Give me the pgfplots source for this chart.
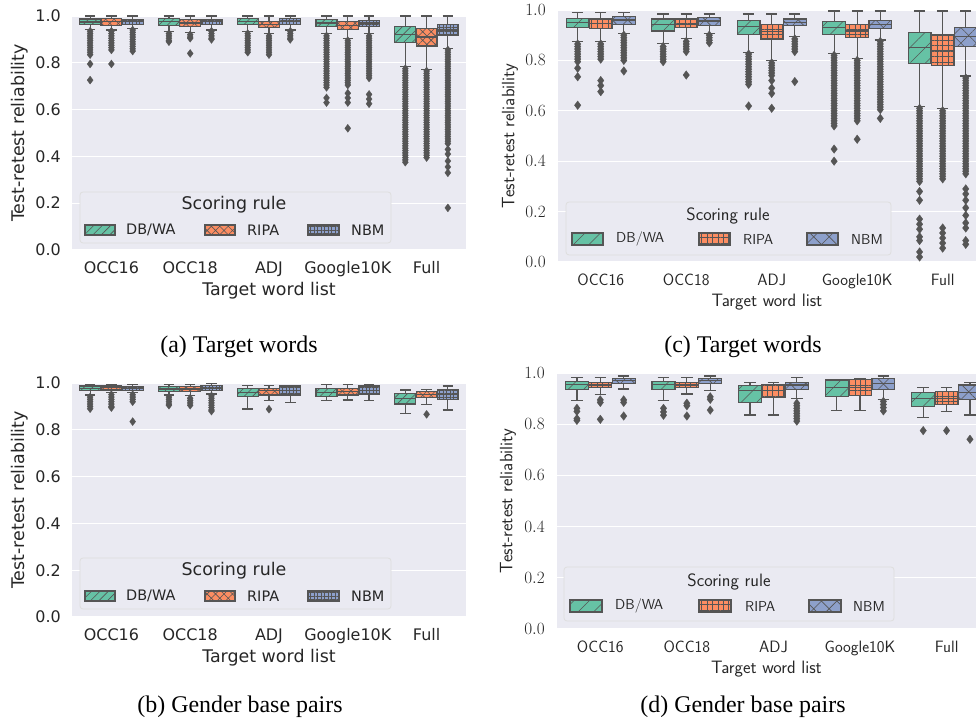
\documentclass[border=0pt]{standalone}
\usepackage{fontspec}
\setmainfont{Liberation Serif}
\newfontfamily\dejavu{DejaVu Sans}
\usepackage{pgfplots}
\pgfplotsset{compat=1.18}
\usepgfplotslibrary{statistics}
\usetikzlibrary{patterns.meta}
\definecolor{bgc}{HTML}{EAEAF2}
\definecolor{cA}{HTML}{66C2A5}
\definecolor{cB}{HTML}{FC8D62}
\definecolor{cC}{HTML}{8DA0CB}
\definecolor{edgec}{HTML}{555555}
\definecolor{txt}{HTML}{262626}
\tikzset{
  hA1/.style={fill=cA, postaction={pattern={Lines[angle=45,distance=6pt,line width=0.6pt]}, pattern color=edgec}},
  hB1/.style={fill=cB, postaction={pattern={Hatch[angle=45,distance=6pt,line width=0.6pt]}, pattern color=edgec}},
  hC1/.style={fill=cC, postaction={pattern={Hatch[angle=0,distance=3.5pt,line width=0.5pt]}, pattern color=edgec}},
  hA2/.style={fill=cA, postaction={pattern={Lines[angle=45,distance=11pt,line width=0.6pt]}, pattern color=edgec}},
  hB2/.style={fill=cB, postaction={pattern={Hatch[angle=0,distance=5.5pt,line width=0.6pt]}, pattern color=edgec}},
  hC2/.style={fill=cC, postaction={pattern={Hatch[angle=45,distance=11pt,line width=0.6pt]}, pattern color=edgec}},
}
\pgfplotsset{
  bxc/.style={boxplot/draw direction=y, boxplot/box extend=0.265, boxplot/whisker extend=0.133,
    draw=edgec, line width=1.2pt, solid,
    mark=diamond*, mark size=4pt,
    mark options={draw=edgec, fill=edgec, line width=0.3pt},
    boxplot/every median/.style={draw=edgec, line width=1.2pt},
    boxplot/every whisker/.style={draw=edgec, line width=1.2pt}},
  pA1/.style={bxc, boxplot/every box/.style={draw=edgec, line width=1.2pt, hA1}},
  pB1/.style={bxc, boxplot/every box/.style={draw=edgec, line width=1.2pt, hB1}},
  pC1/.style={bxc, boxplot/every box/.style={draw=edgec, line width=1.2pt, hC1}},
  pA2/.style={bxc, mark size=4.3pt, boxplot/every box/.style={draw=edgec, line width=1.2pt, hA2}},
  pB2/.style={bxc, mark size=4.3pt, boxplot/every box/.style={draw=edgec, line width=1.2pt, hB2}},
  pC2/.style={bxc, mark size=4.3pt, boxplot/every box/.style={draw=edgec, line width=1.2pt, hC2}},
  axbase/.style={scale only axis,
    axis background/.style={fill=bgc},
    axis line style={draw=none}, tick style={draw=none},
    ymin=0, ymax=1, xmin=-0.5,
    ytick={0,0.2,0.4,0.6,0.8,1}, ymajorgrids, xmajorgrids=false,
    major grid style={white, line width=1.3pt},
    xtick={0,1,2,3,4}, xticklabels={OCC16,OCC18,ADJ,Google10K,Full},
    /pgf/number format/fixed, /pgf/number format/fixed zerofill, /pgf/number format/precision=1,
    xlabel={Target word list}, ylabel={Test-retest reliability}},
  axL/.style={axbase, width=394bp, height=234bp, xmax=4.5,
    /pgf/number format/assume math mode=true,
    ticklabel style={font=\dejavu\fontsize{16}{19}\selectfont, text=txt, inner sep=0pt},
    xticklabel style={anchor=base, yshift=-23.8bp},
    yticklabel style={anchor=east, xshift=-11bp},
    xlabel style={font=\dejavu\fontsize{17.5}{20}\selectfont, text=txt, at={(axis description cs:0.5,0)}, anchor=base, inner sep=0pt, yshift=-45.4bp},
    ylabel style={font=\dejavu\fontsize{17.5}{20}\selectfont, text=txt, at={(axis description cs:-0.132,0.5)}, anchor=center, inner sep=0pt}},
  axR/.style={axbase,
    ticklabel style={font=\fontsize{16.5}{19}\selectfont, text=txt, inner sep=0pt},
    xticklabel style={font=\sffamily\fontsize{16.5}{19}\selectfont, anchor=base, yshift=-23.7bp},
    yticklabel style={anchor=east, xshift=-12bp},
    xlabel style={font=\sffamily\fontsize{18}{21}\selectfont, text=txt, at={(axis description cs:0.5,0)}, anchor=base, inner sep=0pt, yshift=-44.2bp},
    ylabel style={font=\sffamily\fontsize{18}{21}\selectfont, text=txt, anchor=center, inner sep=0pt}},
}
\newcommand{\bp}[7]{\addplot[#1, boxplot prepared={draw position=#2, lower whisker=#3, lower quartile=#4, median=#5, upper quartile=#6, upper whisker=#7}]}
\begin{document}
\begin{tikzpicture}
\useasboundingbox (0,0) rectangle (976bp,725bp);
% ================= (a)
\begin{axis}[axL, at={(72bp,475bp)}]
\bp{pA1}{-0.27}{0.943}{0.962}{0.974}{0.987}{1} coordinates {(0,0.935)(0,0.925)(0,0.915)(0,0.905)(0,0.895)(0,0.885)(0,0.875)(0,0.865)(0,0.855)(0,0.845)(0,0.835)(0,0.795)(0,0.726)};
\bp{pB1}{0}{0.94}{0.96}{0.978}{0.99}{1} coordinates {(0,0.935)(0,0.925)(0,0.915)(0,0.905)(0,0.895)(0,0.885)(0,0.875)(0,0.865)(0,0.855)(0,0.795)};
\bp{pC1}{0.27}{0.945}{0.965}{0.975}{0.985}{1} coordinates {(0,0.94)(0,0.93)(0,0.92)(0,0.91)(0,0.90)(0,0.89)(0,0.88)(0,0.87)(0,0.86)(0,0.85)};
\bp{pA1}{0.73}{0.935}{0.96}{0.975}{0.99}{1} coordinates {(0,0.925)(0,0.915)(0,0.905)(0,0.895)(0,0.89)};
\bp{pB1}{1}{0.93}{0.955}{0.97}{0.985}{1} coordinates {(0,0.92)(0,0.91)(0,0.905)(0,0.84)};
\bp{pC1}{1.27}{0.94}{0.965}{0.975}{0.985}{1} coordinates {(0,0.935)(0,0.925)(0,0.915)(0,0.905)(0,0.90)};
\bp{pA1}{1.73}{0.935}{0.965}{0.975}{0.99}{1} coordinates {(0,0.925)(0,0.915)(0,0.905)(0,0.895)(0,0.885)(0,0.875)(0,0.865)(0,0.855)(0,0.845)};
\bp{pB1}{2}{0.925}{0.95}{0.965}{0.975}{1} coordinates {(0,0.915)(0,0.905)(0,0.895)(0,0.885)(0,0.875)(0,0.865)(0,0.855)(0,0.845)(0,0.835)};
\bp{pC1}{2.27}{0.94}{0.965}{0.975}{0.99}{1} coordinates {(0,0.935)(0,0.925)(0,0.915)(0,0.905)(0,0.90)};
\bp{pA1}{2.73}{0.925}{0.955}{0.97}{0.985}{1} coordinates {(0,0.915)(0,0.905)(0,0.895)(0,0.885)(0,0.875)(0,0.865)(0,0.855)(0,0.845)(0,0.835)(0,0.825)(0,0.815)(0,0.805)(0,0.795)(0,0.785)(0,0.775)(0,0.765)(0,0.755)(0,0.745)(0,0.735)(0,0.725)(0,0.715)(0,0.705)(0,0.695)(0,0.65)(0,0.63)};
\bp{pB1}{3}{0.905}{0.943}{0.96}{0.975}{1} coordinates {(0,0.895)(0,0.885)(0,0.875)(0,0.865)(0,0.855)(0,0.845)(0,0.835)(0,0.825)(0,0.815)(0,0.805)(0,0.795)(0,0.785)(0,0.775)(0,0.765)(0,0.755)(0,0.745)(0,0.735)(0,0.725)(0,0.715)(0,0.705)(0,0.67)(0,0.65)(0,0.63)(0,0.52)};
\bp{pC1}{3.27}{0.925}{0.955}{0.97}{0.98}{1} coordinates {(0,0.915)(0,0.905)(0,0.895)(0,0.885)(0,0.875)(0,0.865)(0,0.855)(0,0.845)(0,0.835)(0,0.825)(0,0.815)(0,0.805)(0,0.795)(0,0.785)(0,0.775)(0,0.765)(0,0.755)(0,0.745)(0,0.735)(0,0.665)(0,0.645)(0,0.625)};
\bp{pA1}{3.73}{0.783}{0.888}{0.922}{0.954}{1} coordinates {(0,0.775)(0,0.765)(0,0.755)(0,0.745)(0,0.735)(0,0.725)(0,0.715)(0,0.705)(0,0.695)(0,0.685)(0,0.675)(0,0.665)(0,0.655)(0,0.645)(0,0.635)(0,0.625)(0,0.615)(0,0.605)(0,0.595)(0,0.585)(0,0.575)(0,0.565)(0,0.555)(0,0.545)(0,0.535)(0,0.525)(0,0.515)(0,0.505)(0,0.495)(0,0.485)(0,0.475)(0,0.465)(0,0.455)(0,0.445)(0,0.435)(0,0.425)(0,0.415)(0,0.405)(0,0.395)(0,0.385)(0,0.375)};
\bp{pB1}{4}{0.77}{0.872}{0.91}{0.947}{1} coordinates {(0,0.765)(0,0.755)(0,0.745)(0,0.735)(0,0.725)(0,0.715)(0,0.705)(0,0.695)(0,0.685)(0,0.675)(0,0.665)(0,0.655)(0,0.645)(0,0.635)(0,0.625)(0,0.615)(0,0.605)(0,0.595)(0,0.585)(0,0.575)(0,0.565)(0,0.555)(0,0.545)(0,0.535)(0,0.525)(0,0.515)(0,0.505)(0,0.495)(0,0.485)(0,0.475)(0,0.465)(0,0.455)(0,0.445)(0,0.435)(0,0.425)(0,0.415)(0,0.405)(0,0.395)};
\bp{pC1}{4.27}{0.862}{0.919}{0.94}{0.964}{1} coordinates {(0,0.855)(0,0.845)(0,0.835)(0,0.825)(0,0.815)(0,0.805)(0,0.795)(0,0.785)(0,0.775)(0,0.765)(0,0.755)(0,0.745)(0,0.735)(0,0.725)(0,0.715)(0,0.705)(0,0.695)(0,0.685)(0,0.675)(0,0.665)(0,0.655)(0,0.645)(0,0.635)(0,0.625)(0,0.615)(0,0.605)(0,0.595)(0,0.585)(0,0.575)(0,0.565)(0,0.555)(0,0.545)(0,0.535)(0,0.525)(0,0.515)(0,0.505)(0,0.495)(0,0.485)(0,0.475)(0,0.465)(0,0.455)(0,0.43)(0,0.41)(0,0.38)(0,0.355)(0,0.33)(0,0.18)};
\end{axis}
% ================= (b)
\begin{axis}[axL, at={(72bp,108bp)}]
\bp{pA1}{-0.27}{0.949}{0.967}{0.977}{0.987}{0.995} coordinates {(0,0.94)(0,0.93)(0,0.92)(0,0.91)(0,0.90)(0,0.89)};
\bp{pB1}{0}{0.959}{0.970}{0.98}{0.987}{0.995} coordinates {(0,0.95)(0,0.94)(0,0.93)(0,0.92)(0,0.91)(0,0.90)(0,0.895)};
\bp{pC1}{0.27}{0.959}{0.967}{0.978}{0.985}{0.995} coordinates {(0,0.95)(0,0.94)(0,0.93)(0,0.92)(0,0.835)};
\bp{pA1}{0.73}{0.949}{0.963}{0.974}{0.984}{0.995} coordinates {(0,0.94)(0,0.93)(0,0.92)(0,0.91)(0,0.905)};
\bp{pB1}{1}{0.945}{0.963}{0.974}{0.984}{0.995} coordinates {(0,0.935)(0,0.925)(0,0.915)(0,0.905)};
\bp{pC1}{1.27}{0.953}{0.967}{0.978}{0.99}{0.998} coordinates {(0,0.945)(0,0.935)(0,0.925)(0,0.915)(0,0.905)(0,0.895)(0,0.885)(0,0.88)};
\bp{pA1}{1.73}{0.889}{0.941}{0.959}{0.977}{0.99} coordinates {};
\bp{pB1}{2}{0.924}{0.949}{0.967}{0.977}{0.99} coordinates {(0,0.888)};
\bp{pC1}{2.27}{0.917}{0.949}{0.967}{0.987}{0.99} coordinates {};
\bp{pA1}{2.73}{0.924}{0.941}{0.959}{0.977}{0.992} coordinates {};
\bp{pB1}{3}{0.927}{0.949}{0.963}{0.977}{0.992} coordinates {};
\bp{pC1}{3.27}{0.924}{0.953}{0.967}{0.987}{0.992} coordinates {};
\bp{pA1}{3.73}{0.87}{0.91}{0.933}{0.956}{0.97} coordinates {};
\bp{pB1}{4}{0.909}{0.939}{0.952}{0.963}{0.973} coordinates {(0,0.866)};
\bp{pC1}{4.27}{0.885}{0.93}{0.952}{0.973}{0.987} coordinates {};
\end{axis}
% ================= (c)
\begin{axis}[axR, at={(558bp,463bp)}, width=418bp, height=252bp, xmax=4.39,
  ylabel style={at={(axis description cs:-0.115,0.5)}}]
\bp{pA2}{-0.27}{0.874}{0.93}{0.95}{0.967}{0.99} coordinates {(0,0.865)(0,0.855)(0,0.845)(0,0.835)(0,0.825)(0,0.815)(0,0.805)(0,0.795)(0,0.769)(0,0.735)(0,0.622)};
\bp{pB2}{0}{0.874}{0.927}{0.946}{0.964}{0.99} coordinates {(0,0.865)(0,0.855)(0,0.845)(0,0.835)(0,0.825)(0,0.815)(0,0.805)(0,0.72)(0,0.70)(0,0.676)};
\bp{pC2}{0.27}{0.907}{0.944}{0.96}{0.974}{0.99} coordinates {(0,0.90)(0,0.89)(0,0.88)(0,0.87)(0,0.86)(0,0.85)(0,0.84)(0,0.83)(0,0.82)(0,0.81)(0,0.80)(0,0.758)};
\bp{pA2}{0.73}{0.868}{0.917}{0.944}{0.964}{0.984} coordinates {(0,0.855)(0,0.845)(0,0.835)(0,0.825)(0,0.815)(0,0.805)(0,0.795)};
\bp{pB2}{1}{0.888}{0.93}{0.944}{0.964}{0.984} coordinates {(0,0.875)(0,0.865)(0,0.855)(0,0.845)(0,0.835)(0,0.742)};
\bp{pC2}{1.27}{0.907}{0.94}{0.956}{0.971}{0.984} coordinates {(0,0.90)(0,0.89)(0,0.88)(0,0.87)};
\bp{pA2}{1.73}{0.832}{0.904}{0.934}{0.958}{0.984} coordinates {(0,0.825)(0,0.815)(0,0.805)(0,0.795)(0,0.785)(0,0.775)(0,0.765)(0,0.755)(0,0.745)(0,0.735)(0,0.725)(0,0.715)(0,0.705)(0,0.619)};
\bp{pB2}{2}{0.798}{0.885}{0.914}{0.944}{0.984} coordinates {(0,0.79)(0,0.78)(0,0.77)(0,0.76)(0,0.75)(0,0.74)(0,0.72)(0,0.69)(0,0.669)(0,0.61)};
\bp{pC2}{2.27}{0.894}{0.937}{0.95}{0.964}{0.984} coordinates {(0,0.885)(0,0.875)(0,0.865)(0,0.855)(0,0.845)(0,0.835)(0,0.716)};
\bp{pA2}{2.73}{0.828}{0.904}{0.931}{0.954}{0.996} coordinates {(0,0.82)(0,0.81)(0,0.80)(0,0.79)(0,0.78)(0,0.77)(0,0.76)(0,0.75)(0,0.74)(0,0.73)(0,0.72)(0,0.71)(0,0.70)(0,0.69)(0,0.68)(0,0.67)(0,0.66)(0,0.65)(0,0.64)(0,0.63)(0,0.62)(0,0.61)(0,0.60)(0,0.59)(0,0.58)(0,0.57)(0,0.56)(0,0.55)(0,0.54)(0,0.448)(0,0.40)};
\bp{pB2}{3}{0.808}{0.89}{0.917}{0.944}{0.996} coordinates {(0,0.80)(0,0.79)(0,0.78)(0,0.77)(0,0.76)(0,0.75)(0,0.74)(0,0.73)(0,0.72)(0,0.71)(0,0.70)(0,0.69)(0,0.68)(0,0.67)(0,0.66)(0,0.65)(0,0.64)(0,0.63)(0,0.62)(0,0.61)(0,0.60)(0,0.59)(0,0.58)(0,0.57)(0,0.56)(0,0.487)};
\bp{pC2}{3.27}{0.881}{0.927}{0.943}{0.958}{0.996} coordinates {(0,0.875)(0,0.865)(0,0.855)(0,0.845)(0,0.835)(0,0.825)(0,0.815)(0,0.805)(0,0.795)(0,0.785)(0,0.775)(0,0.765)(0,0.755)(0,0.745)(0,0.735)(0,0.725)(0,0.715)(0,0.705)(0,0.695)(0,0.685)(0,0.675)(0,0.665)(0,0.655)(0,0.645)(0,0.635)(0,0.625)(0,0.615)(0,0.605)(0,0.57)};
\bp{pA2}{3.73}{0.616}{0.788}{0.85}{0.911}{0.996} coordinates {(0,0.61)(0,0.60)(0,0.59)(0,0.58)(0,0.57)(0,0.56)(0,0.55)(0,0.54)(0,0.53)(0,0.52)(0,0.51)(0,0.50)(0,0.49)(0,0.48)(0,0.47)(0,0.46)(0,0.45)(0,0.44)(0,0.43)(0,0.42)(0,0.41)(0,0.40)(0,0.39)(0,0.38)(0,0.37)(0,0.36)(0,0.35)(0,0.34)(0,0.33)(0,0.32)(0,0.28)(0,0.245)(0,0.17)(0,0.15)(0,0.13)(0,0.10)(0,0.085)(0,0.04)(0,0.02)};
\bp{pB2}{4}{0.61}{0.779}{0.84}{0.901}{0.996} coordinates {(0,0.60)(0,0.59)(0,0.58)(0,0.57)(0,0.56)(0,0.55)(0,0.54)(0,0.53)(0,0.52)(0,0.51)(0,0.50)(0,0.49)(0,0.48)(0,0.47)(0,0.46)(0,0.45)(0,0.44)(0,0.43)(0,0.42)(0,0.41)(0,0.40)(0,0.39)(0,0.38)(0,0.37)(0,0.36)(0,0.35)(0,0.34)(0,0.33)(0,0.135)(0,0.115)(0,0.095)(0,0.075)(0,0.055)};
\bp{pC2}{4.27}{0.738}{0.854}{0.894}{0.931}{0.996} coordinates {(0,0.73)(0,0.72)(0,0.71)(0,0.70)(0,0.69)(0,0.68)(0,0.67)(0,0.66)(0,0.65)(0,0.64)(0,0.63)(0,0.62)(0,0.61)(0,0.60)(0,0.59)(0,0.58)(0,0.57)(0,0.56)(0,0.55)(0,0.54)(0,0.53)(0,0.52)(0,0.51)(0,0.50)(0,0.49)(0,0.48)(0,0.47)(0,0.46)(0,0.45)(0,0.44)(0,0.43)(0,0.42)(0,0.41)(0,0.40)(0,0.39)(0,0.38)(0,0.37)(0,0.36)(0,0.35)(0,0.29)(0,0.27)(0,0.245)(0,0.215)(0,0.185)(0,0.155)(0,0.135)(0,0.085)(0,0.07)};
\end{axis}
% ================= (d)
\begin{axis}[axR, at={(557bp,96bp)}, width=419bp, height=256bp, xmax=4.34,
  ylabel style={at={(axis description cs:-0.117,0.5)}}]
\bp{pA2}{-0.27}{0.892}{0.934}{0.956}{0.966}{0.983} coordinates {(0,0.862)(0,0.85)(0,0.822)(0,0.815)};
\bp{pB2}{0}{0.917}{0.944}{0.953}{0.962}{0.983} coordinates {(0,0.895)(0,0.885)(0,0.819)};
\bp{pC2}{0.27}{0.9375}{0.96}{0.97}{0.979}{0.988} coordinates {(0,0.895)(0,0.885)(0,0.832)};
\bp{pA2}{0.73}{0.892}{0.934}{0.956}{0.966}{0.983} coordinates {(0,0.862)(0,0.848)(0,0.835)};
\bp{pB2}{1}{0.918}{0.944}{0.953}{0.962}{0.983} coordinates {(0,0.882)(0,0.872)(0,0.832)};
\bp{pC2}{1.27}{0.931}{0.96}{0.97}{0.979}{0.988} coordinates {(0,0.907)(0,0.897)(0,0.855)};
\bp{pA2}{1.73}{0.836}{0.885}{0.931}{0.95}{0.963} coordinates {};
\bp{pB2}{2}{0.836}{0.905}{0.931}{0.955}{0.963} coordinates {};
\bp{pC2}{2.27}{0.901}{0.936}{0.953}{0.963}{0.983} coordinates {(0,0.882)(0,0.872)(0,0.862)(0,0.852)(0,0.842)(0,0.832)(0,0.822)(0,0.812)};
\bp{pA2}{2.73}{0.852}{0.907}{0.944}{0.973}{0.975} coordinates {};
\bp{pB2}{3}{0.852}{0.911}{0.944}{0.975}{0.977} coordinates {};
\bp{pC2}{3.27}{0.898}{0.934}{0.96}{0.979}{0.988} coordinates {(0,0.889)(0,0.877)(0,0.865)(0,0.852)};
\bp{pA2}{3.73}{0.826}{0.868}{0.901}{0.925}{0.943} coordinates {(0,0.775)};
\bp{pB2}{4}{0.849}{0.878}{0.901}{0.927}{0.943} coordinates {(0,0.775)};
\bp{pC2}{4.27}{0.836}{0.895}{0.923}{0.953}{0.963} coordinates {(0,0.741)};
\end{axis}
% ================= legends
\begin{scope}[every node/.style={text=txt}]
% (a)
\draw[draw=black!13, fill=bgc, rounded corners=3bp, line width=0.8pt] (80bp,482bp) rectangle (391bp,533bp);
\node[font=\dejavu\fontsize{17.5}{20}\selectfont] at (234bp,520bp) {Scoring rule};
\path[draw=edgec, line width=1.1pt, hA1] (85bp,490bp) rectangle (115bp,500bp);
\path[draw=edgec, line width=1.1pt, hB1] (205bp,490bp) rectangle (235bp,500bp);
\path[draw=edgec, line width=1.1pt, hC1] (308bp,490bp) rectangle (339bp,500bp);
\node[font=\dejavu\fontsize{14.5}{17}\selectfont, anchor=west, inner sep=0pt] at (126bp,495bp) {DB/WA};
\node[font=\dejavu\fontsize{14.5}{17}\selectfont, anchor=west, inner sep=0pt] at (247bp,495bp) {RIPA};
\node[font=\dejavu\fontsize{14.5}{17}\selectfont, anchor=west, inner sep=0pt] at (351bp,495bp) {NBM};
% (b)
\draw[draw=black!13, fill=bgc, rounded corners=3bp, line width=0.8pt] (80bp,116bp) rectangle (391bp,167bp);
\node[font=\dejavu\fontsize{17.5}{20}\selectfont] at (234bp,154bp) {Scoring rule};
\path[draw=edgec, line width=1.1pt, hA1] (85bp,124bp) rectangle (115bp,134bp);
\path[draw=edgec, line width=1.1pt, hB1] (205bp,124bp) rectangle (235bp,134bp);
\path[draw=edgec, line width=1.1pt, hC1] (308bp,124bp) rectangle (339bp,134bp);
\node[font=\dejavu\fontsize{14.5}{17}\selectfont, anchor=west, inner sep=0pt] at (126bp,129bp) {DB/WA};
\node[font=\dejavu\fontsize{14.5}{17}\selectfont, anchor=west, inner sep=0pt] at (247bp,129bp) {RIPA};
\node[font=\dejavu\fontsize{14.5}{17}\selectfont, anchor=west, inner sep=0pt] at (351bp,129bp) {NBM};
% (c)
\draw[draw=black!13, fill=bgc, rounded corners=3bp, line width=0.8pt] (566bp,470bp) rectangle (891bp,523bp);
\node[font=\sffamily\fontsize{18}{21}\selectfont] at (728bp,509bp) {Scoring rule};
\path[draw=edgec, line width=1.1pt, hA2] (572bp,480bp) rectangle (603bp,492bp);
\path[draw=edgec, line width=1.1pt, hB2] (699bp,480bp) rectangle (730bp,492bp);
\path[draw=edgec, line width=1.1pt, hC2] (807bp,480bp) rectangle (838bp,492bp);
\node[font=\sffamily\fontsize{14.5}{17}\selectfont, anchor=west, inner sep=0pt] at (616bp,486bp) {DB/WA};
\node[font=\sffamily\fontsize{14.5}{17}\selectfont, anchor=west, inner sep=0pt] at (743bp,486bp) {RIPA};
\node[font=\sffamily\fontsize{14.5}{17}\selectfont, anchor=west, inner sep=0pt] at (851bp,486bp) {NBM};
% (d)
\draw[draw=black!13, fill=bgc, rounded corners=3bp, line width=0.8pt] (564bp,104bp) rectangle (894bp,158bp);
\node[font=\sffamily\fontsize{18}{21}\selectfont] at (729bp,143bp) {Scoring rule};
\path[draw=edgec, line width=1.1pt, hA2] (570bp,113bp) rectangle (602bp,125bp);
\path[draw=edgec, line width=1.1pt, hB2] (699bp,113bp) rectangle (731bp,125bp);
\path[draw=edgec, line width=1.1pt, hC2] (809bp,113bp) rectangle (841bp,125bp);
\node[font=\sffamily\fontsize{14.5}{17}\selectfont, anchor=west, inner sep=0pt] at (615bp,119bp) {DB/WA};
\node[font=\sffamily\fontsize{14.5}{17}\selectfont, anchor=west, inner sep=0pt] at (745bp,119bp) {RIPA};
\node[font=\sffamily\fontsize{14.5}{17}\selectfont, anchor=west, inner sep=0pt] at (853bp,119bp) {NBM};
\end{scope}
% ================= captions
\node[font=\fontsize{24}{28}\selectfont] at (239bp,378bp) {(a) Target words};
\node[font=\fontsize{24}{28}\selectfont] at (743bp,378bp) {(c) Target words};
\node[font=\fontsize{24}{28}\selectfont] at (240bp,18bp) {(b) Gender base pairs};
\node[font=\fontsize{24}{28}\selectfont] at (743bp,18bp) {(d) Gender base pairs};
\end{tikzpicture}
\end{document}
